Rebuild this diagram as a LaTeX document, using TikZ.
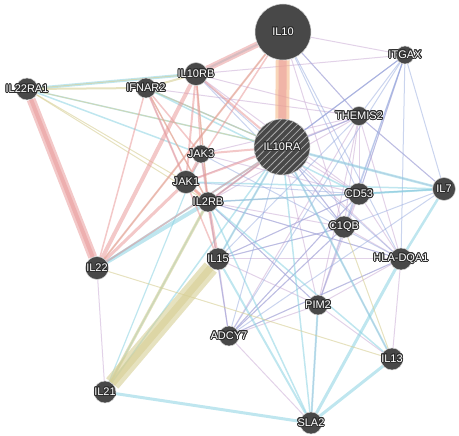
\documentclass[tikz,border=0pt]{standalone}
\usepackage{fontspec}
\setmainfont{Liberation Sans}
\usepackage{contour}
\usetikzlibrary{patterns.meta}
\contourlength{0.9pt}
\definecolor{nodegray}{HTML}{484848}
\definecolor{labdark}{HTML}{2E2E2E}
\definecolor{physc}{HTML}{E99A9A}
\definecolor{predc}{HTML}{F4B27E}
\definecolor{coexpc}{HTML}{C6A6D2}
\definecolor{colocc}{HTML}{95A9DE}
\definecolor{pathc}{HTML}{8AD2E2}
\definecolor{domc}{HTML}{D6CE94}
\pgfdeclarelayer{bg}
\pgfsetlayers{bg,main}
\newcommand{\glab}[1]{\makebox[0pt]{\contour{labdark}{#1}}}
\tikzset{
  gene/.style={circle, fill=nodegray, draw=gray!35, line width=0.5pt, inner sep=0pt,
    minimum size=22pt, text=white, font=\fontsize{11}{11}\selectfont},
  hub/.style={gene, minimum size=56pt},
  hatched/.style={postaction={pattern={Lines[angle=45,distance=5pt,line width=0.8pt]}, pattern color=gray!65}},
  phys/.style={physc, draw opacity=0.55},
  pred/.style={predc, draw opacity=0.55},
  coexp/.style={coexpc, draw opacity=0.5},
  coloc/.style={colocc, draw opacity=0.5},
  pathw/.style={pathc, draw opacity=0.55},
  dom/.style={domc, draw opacity=0.6}
}
\begin{document}
\begin{tikzpicture}[x=1pt,y=-1pt]
    \useasboundingbox (0,0) rectangle (459,436);
    % genes
    \node[hub] (il10) at (283,32) {\glab{IL10}};
    \node[hub, hatched] (il10ra) at (282,147) {\glab{IL10RA}};
    \node[gene] (il22ra1) at (27,89) {\glab{IL22RA1}};
    \node[gene, minimum size=20pt] (ifnar2) at (146,88) {\glab{IFNAR2}};
    \node[gene, minimum size=23pt] (il10rb) at (196,74) {\glab{IL10RB}};
    \node[gene, minimum size=18pt] (itgax) at (405,55) {\glab{ITGAX}};
    \node[gene, minimum size=19pt] (themis2) at (359,116) {\glab{THEMIS2}};
    \node[gene, minimum size=18pt] (jak3) at (201,154) {\glab{JAK3}};
    \node[gene, minimum size=23pt] (jak1) at (186,182) {\glab{JAK1}};
    \node[gene, minimum size=20pt] (il2rb) at (208,202) {\glab{IL2RB}};
    \node[gene] (cd53) at (359,194) {\glab{CD53}};
    \node[gene, minimum size=23pt] (il7) at (444,189) {\glab{IL7}};
    \node[gene] (c1qb) at (344,227) {\glab{C1QB}};
    \node[gene] (hladqa1) at (401,259) {\glab{HLA-DQA1}};
    \node[gene, minimum size=23pt] (il22) at (97,268) {\glab{IL22}};
    \node[gene] (il15) at (218,259) {\glab{IL15}};
    \node[gene, minimum size=20pt] (pim2) at (318,305) {\glab{PIM2}};
    \node[gene, minimum size=20pt] (adcy7) at (229,336) {\glab{ADCY7}};
    \node[gene] (il13) at (392,359) {\glab{IL13}};
    \node[gene] (il21) at (105,392) {\glab{IL21}};
    \node[gene] (sla2) at (311,423) {\glab{SLA2}};
    \begin{pgfonlayer}{bg}
    % co-expression
    \foreach \a/\b in {il10rb/itgax, il10rb/themis2, il10rb/cd53, ifnar2/themis2, ifnar2/il10ra,
        il10/itgax, il10/themis2, il10/c1qb, il10ra/themis2, il10ra/cd53, il10ra/c1qb,
        il10ra/hladqa1, il10ra/pim2, il10ra/il15, il10ra/itgax, themis2/cd53, themis2/c1qb,
        themis2/hladqa1, themis2/pim2, themis2/adcy7, themis2/il2rb, cd53/c1qb, cd53/hladqa1,
        cd53/pim2, cd53/adcy7, cd53/il2rb, cd53/il15, c1qb/hladqa1, c1qb/pim2, c1qb/adcy7,
        c1qb/il2rb, c1qb/il15, hladqa1/pim2, hladqa1/adcy7, hladqa1/il2rb, hladqa1/il15,
        pim2/adcy7, pim2/il15, pim2/il2rb, pim2/il13, pim2/sla2, adcy7/il2rb, adcy7/il15,
        adcy7/sla2, il21/il22, itgax/cd53, jak3/cd53, jak3/themis2, jak1/themis2,
        il7/themis2, il7/il10ra, il7/il2rb, ifnar2/jak1, il13/hladqa1, il13/il10ra}
        \draw[coexp, line width=1pt] (\a) -- (\b);
    % co-localization
    \foreach \a/\b in {itgax/il10ra, itgax/themis2, itgax/cd53, itgax/c1qb, itgax/hladqa1,
        itgax/il7, itgax/adcy7, itgax/pim2, itgax/il2rb, themis2/il10ra, themis2/il15,
        il10/cd53, il10/hladqa1, il10/themis2, il10ra/adcy7, il10ra/c1qb, cd53/adcy7,
        cd53/il15, c1qb/adcy7, hladqa1/adcy7, hladqa1/il2rb, il7/themis2, il7/c1qb,
        il7/adcy7, il10rb/hladqa1, il10rb/c1qb, jak3/hladqa1, jak1/cd53, il2rb/pim2,
        adcy7/jak3, il15/c1qb, il10ra/il2rb}
        \draw[coloc, line width=1pt] (\a) -- (\b);
    % pathway
    \foreach \a/\b/\w in {il22ra1/il10rb/3, il22ra1/il10ra/1.5, il22ra1/jak3/1.5,
        ifnar2/il10ra/1.5, il10/il10rb/2, il22/il2rb/4, il22/il10ra/2, il21/il2rb/1.5,
        il21/jak3/1.2, il21/il10ra/1.5, il21/sla2/3, il15/il10ra/2, il15/sla2/2,
        il2rb/sla2/1.5, il7/il10ra/2.5, il7/cd53/2, il7/il2rb/1.5, il7/hladqa1/2.5,
        hladqa1/sla2/3, il13/sla2/3, pim2/sla2/2, il13/il10ra/2, il13/il2rb/1.5,
        sla2/il10ra/1.5, jak1/il7/1.5, ifnar2/cd53/1.5}
        \draw[pathw, line width=\w pt] (\a) -- (\b);
    % shared protein domains
    \foreach \a/\b/\w in {il22ra1/ifnar2/2, ifnar2/il10rb/2, il22ra1/il10rb/1, il22ra1/jak1/1,
        il22ra1/il2rb/1, il22ra1/il10ra/1, ifnar2/il2rb/1, il10/il22/1, il21/il15/16,
        il21/il15/7, il21/il2rb/3, il22/il13/1, il13/c1qb/1, il2rb/il10rb/1, il10ra/ifnar2/1}
        \draw[dom, line width=\w pt] (\a) -- (\b);
    % predicted
    \draw[pred, line width=14pt] (il10) -- (il10ra);
    \draw[pred, line width=2pt] (jak1) -- (il2rb);
    % physical interactions
    \foreach \a/\b/\w in {il22ra1/il22/9, il22ra1/il22/4, il10/il10ra/8, il10/il10rb/6,
        il22/il10rb/4, il22/il10/2, il22/jak1/3, il22/il10ra/1.5, ifnar2/il22/1.5,
        ifnar2/jak1/2, ifnar2/il2rb/1.5, ifnar2/jak3/1.5, il10rb/jak1/2, il10rb/jak3/1.5,
        il10rb/il2rb/1.5, il10rb/il10ra/2, il10/jak1/1.5, il10ra/jak1/2, il10ra/jak3/2,
        il10ra/il2rb/2, jak1/jak3/2, jak1/il2rb/3, jak3/il2rb/2, il2rb/il15/3, jak1/il15/1.5}
        \draw[phys, line width=\w pt] (\a) -- (\b);
    \end{pgfonlayer}
\end{tikzpicture}
\end{document}
